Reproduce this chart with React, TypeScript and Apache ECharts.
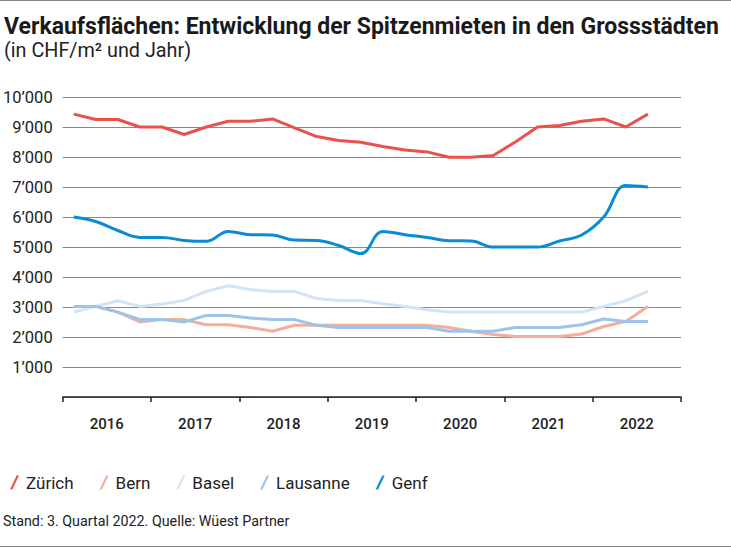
import React, { useEffect, useRef } from "react";
import * as echarts from "echarts";

const years = ["2016", "2017", "2018", "2019", "2020", "2021", "2022"];
const yTicks = [0, 1000, 2000, 3000, 4000, 5000, 6000, 7000, 8000, 9000, 10000];

// Quarterly values, 2016 Q1 .. 2022 Q3
const zuerich = [9430, 9250, 9250, 9000, 9000, 8750, 9000, 9190, 9190, 9270, 8970, 8680, 8550, 8490, 8350, 8230, 8170, 7990, 7990, 8050, 8500, 9000, 9050, 9190, 9270, 9000, 9430];
const bern = [3020, 3020, 2830, 2500, 2580, 2580, 2410, 2410, 2320, 2190, 2390, 2390, 2390, 2390, 2390, 2390, 2390, 2320, 2190, 2080, 2020, 2020, 2020, 2100, 2350, 2520, 3020];
const basel = [2830, 3020, 3210, 3020, 3100, 3220, 3520, 3710, 3580, 3520, 3520, 3280, 3220, 3220, 3110, 3020, 2910, 2830, 2830, 2830, 2830, 2830, 2830, 2830, 3020, 3210, 3520];
const lausanne = [3020, 3020, 2830, 2580, 2580, 2500, 2720, 2720, 2630, 2580, 2580, 2390, 2320, 2320, 2320, 2320, 2320, 2190, 2190, 2190, 2320, 2320, 2320, 2410, 2600, 2520, 2520];
const genf = [6000, 5850, 5550, 5320, 5320, 5220, 5190, 5520, 5410, 5400, 5230, 5220, 5050, 4780, 5520, 5410, 5320, 5210, 5200, 5000, 5000, 5000, 5200, 5400, 6000, 7050, 7000];

const names = ["Zürich", "Bern", "Basel", "Lausanne", "Genf"];
const colors = ["#E9514A", "#F5AE9B", "#D3E3F6", "#9DC3EA", "#0B8BD5"];
const seriesValues = [zuerich, bern, basel, lausanne, genf];

const FONT = "Roboto, 'Liberation Sans', Arial, sans-serif";

function fmt(v: number): string {
  if (v === 0) return "";
  const s = String(v);
  return s.length > 3 ? s.slice(0, s.length - 3) + "\u2019" + s.slice(-3) : s;
}

export default function App() {
  const ref = useRef<HTMLDivElement>(null);
  useEffect(() => {
    document.body.style.margin = "0";
    if (!ref.current) return;
    const chart = echarts.init(ref.current, undefined, { renderer: "svg" });
    const slash = "path://M7,0 L9.5,0 L2.5,15 L0,15 Z";
    chart.setOption({
      animation: false,
      backgroundColor: "#fff",
      textStyle: { fontFamily: FONT },
      grid: { left: 60, right: 50, top: 97, bottom: 151, containLabel: false },
      legend: {
        left: 5,
        top: 469,
        icon: slash,
        itemWidth: 9,
        itemHeight: 15,
        itemGap: 26,
        data: names,
        textStyle: { fontSize: 17, color: "#222", fontFamily: FONT, padding: [0, 0, 0, 2] },
      },
      xAxis: [
        {
          type: "value",
          min: 0,
          max: 28,
          interval: 4,
          axisLine: { show: true, lineStyle: { color: "#222", width: 1.5 } },
          axisTick: { show: true, length: 5, lineStyle: { color: "#222", width: 1.5 } },
          axisLabel: { show: false },
          splitLine: { show: false },
        },
        {
          type: "category",
          position: "bottom",
          data: years,
          boundaryGap: true,
          axisLine: { show: false },
          axisTick: { show: false },
          axisLabel: { show: true, margin: 19, fontSize: 15, fontWeight: 500, color: "#222", fontFamily: FONT },
          splitLine: { show: false },
        },
      ],
      yAxis: {
        type: "value",
        min: yTicks[0],
        max: yTicks[yTicks.length - 1],
        interval: 1000,
        axisLine: { show: false },
        axisTick: { show: false },
        axisLabel: { formatter: (v: number) => fmt(v), fontSize: 16.5, color: "#222", margin: 10, fontFamily: FONT },
        splitLine: { show: true, lineStyle: { color: "#8a8a8a", width: 1 } },
      },
      series: names.map((n, k) => ({
        name: n,
        type: "line",
        xAxisIndex: 0,
        smooth: n === "Genf" ? 0.4 : false,
        symbol: "none",
        color: colors[k],
        lineStyle: { width: 3, color: colors[k] },
        data: seriesValues[k].map((v, i) => [i + 0.5, v]),
        z: 2 + k,
      })),
      graphic: [
        { type: "line", shape: { x1: 0, y1: 0.5, x2: 731, y2: 0.5 }, style: { stroke: "#888", lineWidth: 1 } },
        { type: "line", shape: { x1: 0, y1: 546.5, x2: 731, y2: 546.5 }, style: { stroke: "#888", lineWidth: 1 } },
        {
          type: "text",
          left: 4,
          top: 15,
          style: { text: "Verkaufsflächen: Entwicklung der Spitzenmieten in den Grossstädten", fontSize: 23, fontWeight: "bold", fill: "#1a1a1a", fontFamily: FONT },
        },
        {
          type: "text",
          left: 4,
          top: 40,
          style: { text: "(in CHF/m² und Jahr)", fontSize: 19.8, fill: "#222", fontFamily: FONT },
        },
        {
          type: "text",
          left: 3,
          top: 514,
          style: { text: "Stand: 3. Quartal 2022. Quelle: Wüest Partner", fontSize: 14.3, fill: "#222", fontFamily: FONT },
        },
      ],
    });
    return () => chart.dispose();
  }, []);
  return <div ref={ref} style={{ position: "fixed", left: 0, top: 0, width: 731, height: 548 }} />;
}
